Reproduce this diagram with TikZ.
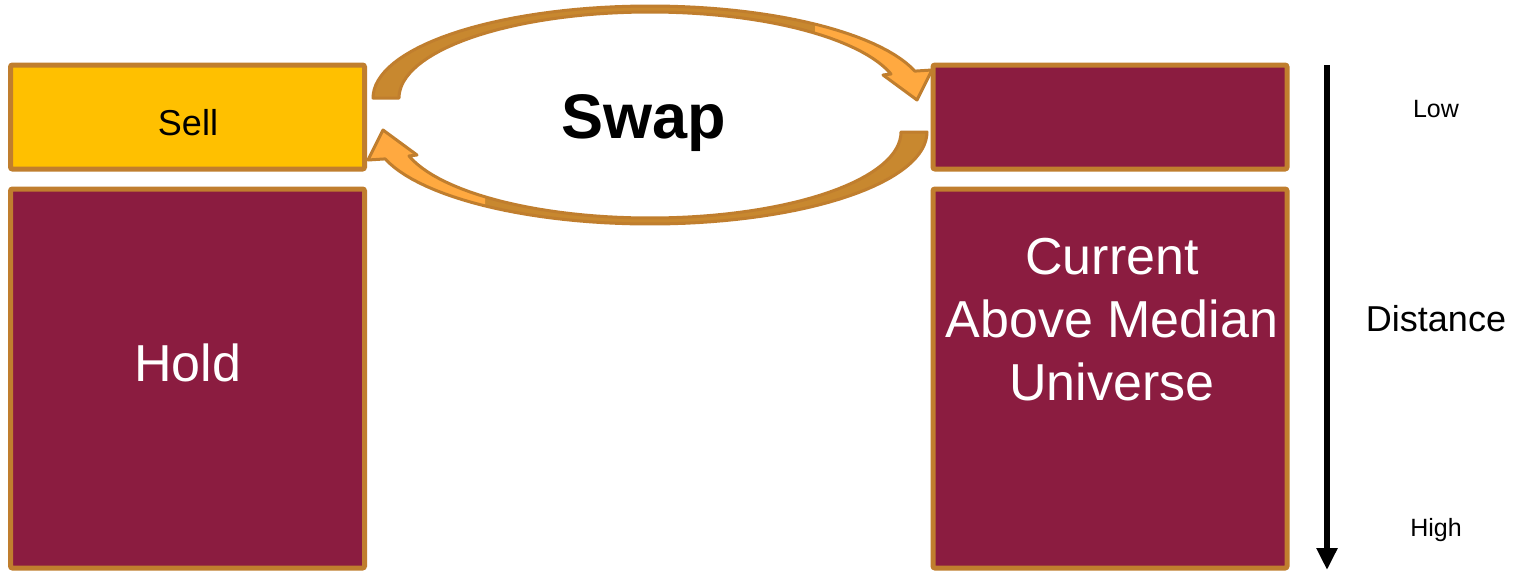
\documentclass[tikz,border=0pt]{standalone}
\usepackage{fontspec}
\setmainfont{Liberation Sans}
\usetikzlibrary{arrows.meta}
\definecolor{maroon}{HTML}{8B1C40}
\definecolor{gold}{HTML}{FFC000}
\definecolor{edge}{HTML}{C07E2E}
\definecolor{arrdark}{HTML}{C8882F}
\definecolor{arrlight}{HTML}{FFA940}
\begin{document}
\begin{tikzpicture}[x=1pt,y=-1pt,
  box/.style={draw=edge, line width=5pt, rounded corners=2pt, minimum width=354pt, inner sep=0pt, outer sep=0pt},
  lbl/.style={inner sep=0pt, anchor=base},
  swaparrow/.style={draw=edge, line width=3pt, line join=round}
]
\clip (0,0) rectangle (1525,571);
\fill[white] (0,0) rectangle (1525,571);

% boxes
\node[box, fill=gold, minimum height=104pt] (sell) at (187.5,117) {};
\node[box, fill=maroon, minimum height=379pt] (hold) at (187.5,378.5) {};
\node[box, fill=maroon, minimum height=104pt] (low) at (1110,117) {};
\node[box, fill=maroon, minimum height=379pt] (cur) at (1110,378.5) {};

% texts
\node[lbl, font=\fontsize{36}{43}\selectfont] (selltxt) at (188,135) {Sell};
\node[lbl, text=white, font=\fontsize{52}{62}\selectfont] (holdtxt) at (187.5,381) {Hold};
\node[inner sep=0pt, text=white, align=center, font=\fontsize{52}{63}\selectfont] (curtxt) at (1112,320) {Current\\Above Median\\Universe};
\node[lbl, font=\bfseries\fontsize{63}{75}\selectfont] (swap) at (644,138) {Swap};
\node[lbl, font=\fontsize{25}{30}\selectfont] (lowtxt) at (1436,117) {Low};
\node[lbl, font=\fontsize{25}{30}\selectfont] (hightxt) at (1436,536) {High};
\node[lbl, font=\fontsize{36}{43}\selectfont] (dist) at (1436,331) {Distance};

% distance arrow
\coordinate (dtop) at (1327,65);
\coordinate (dbot) at (1327,570);
\draw[line width=6.5pt, -{Triangle[width=20pt,length=22pt]}] (dtop) -- (dbot);

% swap arrows
\foreach \r in {0, 180} {
\begin{scope}[rotate around={\r:(650,115)}]
  \fill[arrdark] (373,98) -- plot[domain=180:17, samples=60, variable=\t] ({650+277*cos(\t)},{98-92*sin(\t)}) -- (932,70) -- (917,100) -- (883,75) -- plot[domain=16.2:180, samples=60, variable=\t] ({650+251*cos(\t)},{98-86*sin(\t)}) -- cycle;
  \begin{scope}
    \clip (815,-10) rectangle (960,130);
    \fill[arrlight] (373,98) -- plot[domain=180:17, samples=60, variable=\t] ({650+277*cos(\t)},{98-92*sin(\t)}) -- (932,70) -- (917,100) -- (883,75) -- plot[domain=16.2:180, samples=60, variable=\t] ({650+251*cos(\t)},{98-86*sin(\t)}) -- cycle;
  \end{scope}
  \draw[swaparrow] (373,98) -- plot[domain=180:17, samples=60, variable=\t] ({650+277*cos(\t)},{98-92*sin(\t)}) -- (932,70) -- (917,100) -- (883,75) -- plot[domain=16.2:180, samples=60, variable=\t] ({650+251*cos(\t)},{98-86*sin(\t)}) -- cycle;
\end{scope}
}
\end{tikzpicture}
\end{document}
